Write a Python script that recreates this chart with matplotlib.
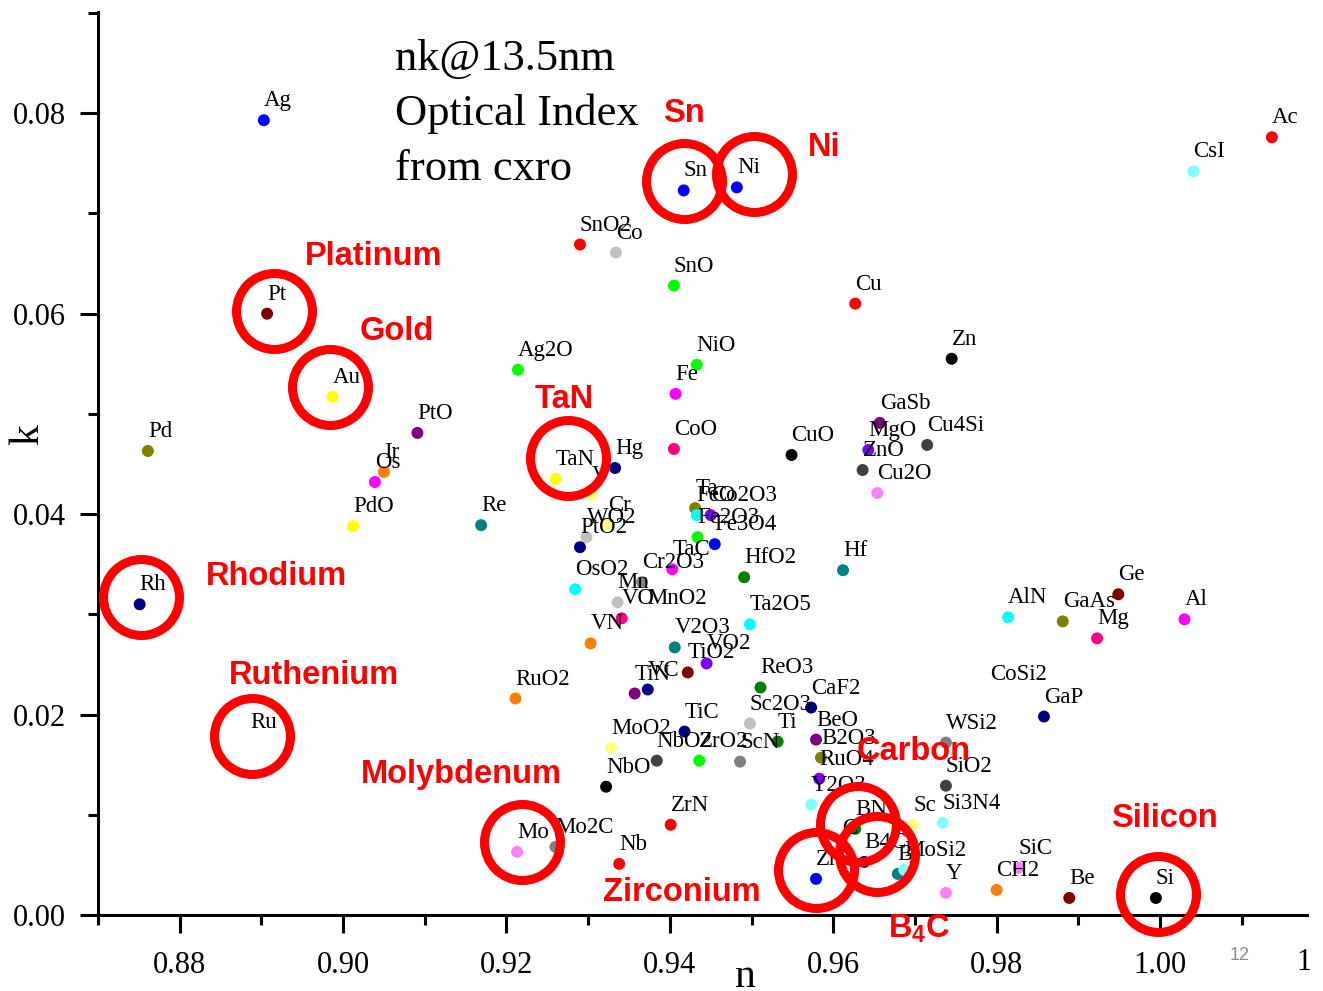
import matplotlib
matplotlib.use('Agg')
import matplotlib.pyplot as plt
from matplotlib.ticker import MultipleLocator, FormatStrFormatter
from matplotlib.transforms import Bbox, TransformedBbox

plt.rcParams['font.family'] = 'Liberation Serif'
plt.rcParams['mathtext.fontset'] = 'custom'
plt.rcParams['mathtext.rm'] = 'Liberation Sans:bold'

# Origin default colour list
pal = {'black': '#000000', 'red': '#FF0000', 'green': '#00FF00', 'blue': '#0000FF',
       'cyan': '#00FFFF', 'magenta': '#FF00FF', 'yellow': '#FFFF00', 'dkyellow': '#808000',
       'navy': '#000080', 'purple': '#800080', 'wine': '#800000', 'olive': '#008000',
       'dkcyan': '#008080', 'orange': '#FF8000', 'violet': '#8000FF', 'pink': '#FF0080',
       'white': '#FFFFFF', 'ltgray': '#C0C0C0', 'gray': '#808080', 'ltyellow': '#FFFF80',
       'ltcyan': '#80FFFF', 'ltmagenta': '#FF80FF', 'dkgray': '#404040'}

# nk @ 13.5 nm
materials = ['Ag', 'Ac', 'CsI', 'Sn', 'Ni', 'SnO2', 'Co', 'SnO', 'Pt', 'Cu',
             'Zn', 'NiO', 'Ag2O', 'Fe', 'Au', 'GaSb', 'PtO', 'Cu4Si', 'MgO', 'ZnO',
             'Cu2O', 'CuO', 'Pd', 'Ir', 'Os', 'PdO', 'Re', 'Hg', 'TaN', 'V',
             'Cr', 'WO2', 'PtO2', 'CoO', 'Ta', 'FeO', 'Co2O3', 'Fe2O3', 'Fe3O4', 'TaC',
             'Cr2O3', 'OsO2', 'Mn', 'VO', 'MnO2', 'VN', 'Ta2O5', 'HfO2', 'V2O3', 'VO2',
             'TiO2', 'VC', 'TiN', 'RuO2', 'ReO3', 'CaF2', 'Sc2O3', 'Ti', 'BeO', 'B2O3',
             'RuO4', 'Y2O3', 'TiC', 'MoO2', 'NbO2', 'ZrO2', 'ScN', 'NbO', 'ZrN', 'Nb',
             'Mo2C', 'Mo', 'Rh', 'Ru', 'Hf', 'Ge', 'AlN', 'GaAs', 'Mg', 'Al',
             'CoSi2', 'GaP', 'WSi2', 'SiO2', 'Sc', 'Si3N4', 'BN', 'C', 'B4C', 'Zr',
             'B', 'MoSi2', 'Y', 'CH2', 'SiC', 'Be', 'Si']
n_vals = [0.8903, 1.0137, 1.0041, 0.9417, 0.9482, 0.9290, 0.9334, 0.9405, 0.8907, 0.9627,
          0.9745, 0.9433, 0.9214, 0.9407, 0.8987, 0.9657, 0.9091, 0.9715, 0.9643, 0.9636,
          0.9654, 0.9549, 0.8761, 0.9050, 0.9039, 0.9012, 0.9169, 0.9333, 0.9260, 0.9305,
          0.9324, 0.9298, 0.9290, 0.9405, 0.9431, 0.9433, 0.9450, 0.9434, 0.9455, 0.9403,
          0.9366, 0.9284, 0.9336, 0.9341, 0.9372, 0.9303, 0.9498, 0.9491, 0.9406, 0.9445,
          0.9422, 0.9373, 0.9357, 0.9211, 0.9511, 0.9573, 0.9498, 0.9532, 0.9579, 0.9585,
          0.9583, 0.9573, 0.9418, 0.9328, 0.9384, 0.9436, 0.9486, 0.9322, 0.9401, 0.9338,
          0.9260, 0.9213, 0.8751, 0.8886, 0.9612, 0.9949, 0.9814, 0.9881, 0.9923, 1.0030,
          0.9792, 0.9858, 0.9738, 0.9738, 0.9698, 0.9734, 0.9627, 0.9611, 0.9638, 0.9579,
          0.9679, 0.9687, 0.9738, 0.9800, 0.9827, 0.9889, 0.9995]
k_vals = [0.0793, 0.0776, 0.0742, 0.0723, 0.0726, 0.0669, 0.0661, 0.0628, 0.0600, 0.0610,
          0.0555, 0.0549, 0.0544, 0.0520, 0.0517, 0.0491, 0.0481, 0.0469, 0.0464, 0.0444,
          0.0421, 0.0459, 0.0463, 0.0442, 0.0432, 0.0388, 0.0389, 0.0446, 0.0435, 0.0419,
          0.0389, 0.0377, 0.0367, 0.0465, 0.0406, 0.0399, 0.0399, 0.0377, 0.0370, 0.0345,
          0.0332, 0.0325, 0.0312, 0.0296, 0.0296, 0.0271, 0.0290, 0.0337, 0.0267, 0.0251,
          0.0242, 0.0225, 0.0221, 0.0216, 0.0227, 0.0207, 0.0191, 0.0173, 0.0175, 0.0157,
          0.0136, 0.0110, 0.0183, 0.0167, 0.0154, 0.0154, 0.0153, 0.0128, 0.0090, 0.0051,
          0.0068, 0.0063, 0.0310, 0.0173, 0.0344, 0.0320, 0.0297, 0.0293, 0.0276, 0.0295,
          0.0221, 0.0198, 0.0172, 0.0129, 0.0090, 0.0092, 0.0086, 0.0067, 0.0053, 0.0036,
          0.0041, 0.0045, 0.0022, 0.0025, 0.0047, 0.0017, 0.0017]
color_names = ['blue', 'red', 'ltcyan', 'blue', 'blue', 'red', 'ltgray', 'green', 'wine', 'red',
               'black', 'green', 'green', 'magenta', 'yellow', 'purple', 'purple', 'dkgray', 'violet', 'dkgray',
               'ltmagenta', 'black', 'dkyellow', 'orange', 'magenta', 'yellow', 'dkcyan', 'navy', 'yellow', 'ltyellow',
               'ltyellow', 'ltgray', 'navy', 'pink', 'dkyellow', 'cyan', 'violet', 'green', 'blue', 'magenta',
               'gray', 'cyan', 'ltgray', 'pink', 'white', 'orange', 'cyan', 'olive', 'dkcyan', 'violet',
               'wine', 'navy', 'purple', 'orange', 'olive', 'navy', 'ltgray', 'olive', 'purple', 'dkyellow',
               'violet', 'ltcyan', 'navy', 'ltyellow', 'dkgray', 'green', 'gray', 'black', 'red', 'red',
               'gray', 'ltmagenta', 'navy', 'white', 'dkcyan', 'wine', 'cyan', 'dkyellow', 'pink', 'magenta',
               'white', 'navy', 'gray', 'dkgray', 'ltyellow', 'ltcyan', 'olive', 'white', 'navy', 'blue',
               'dkcyan', 'ltcyan', 'ltmagenta', 'orange', 'ltmagenta', 'wine', 'black']
colors = [pal[c] for c in color_names]

# red highlight circles and their captions
hl_n = [0.9417, 0.9503, 0.8916, 0.8984, 0.9275, 0.8753, 0.8888, 0.9219, 0.9579, 0.9630, 0.9654, 0.9998]
hl_k = [0.0732, 0.0739, 0.0603, 0.0527, 0.0456, 0.0317, 0.0179, 0.0073, 0.0045, 0.0091, 0.0061, 0.0021]
cap_text = ['Sn', 'Ni', 'Platinum', 'Gold', 'TaN', 'Rhodium', 'Ruthenium', 'Molybdenum',
            'Carbon', 'Silicon', 'Zirconium', r'B$_4$C']
cap_n = [0.9417, 0.9589, 0.9038, 0.9066, 0.9271, 0.8918, 0.8964, 0.9145, 0.9699, 1.0006, 0.9415, 0.9705]
cap_k = [0.0800, 0.0766, 0.0657, 0.0582, 0.0514, 0.0338, 0.0239, 0.0140, 0.0163, 0.0096, 0.0022, -0.0014]

W, H = 1323, 991
fig = plt.figure(figsize=(W / 100, H / 100), dpi=100)
ax = fig.add_axes([98 / W, 76 / H, 1209 / W, 903 / H])

ax.scatter(n_vals, k_vals, s=74, c=colors, linewidths=0, zorder=2)
for name, x, y in zip(materials, n_vals, k_vals):
    ax.annotate(name, (x, y), xytext=(0, 14), textcoords='offset pixels',
                ha='left', va='baseline', fontsize=16.5, zorder=3)

ax.plot(hl_n, hl_k, 'o', ms=54.7, mfc='none', mec='red', mew=6.5, zorder=5, clip_on=False)
for s, x, y in zip(cap_text, cap_n, cap_k):
    ax.text(x, y, s, color='red', fontsize=23.5, fontweight='bold', family='Liberation Sans',
            ha='center', va='center', zorder=6, clip_on=False)

ax.set_xlim(0.87, 1.018)
ax.set_ylim(0, 0.0901)
ax.xaxis.set_major_locator(MultipleLocator(0.02))
ax.xaxis.set_minor_locator(MultipleLocator(0.01))
ax.yaxis.set_major_locator(MultipleLocator(0.02))
ax.yaxis.set_minor_locator(MultipleLocator(0.01))
ax.xaxis.set_major_formatter(FormatStrFormatter('%.2f'))
ax.yaxis.set_major_formatter(FormatStrFormatter('%.2f'))
ax.tick_params(which='major', direction='out', length=13, width=2.2, labelsize=22)
ax.tick_params(axis='x', which='major', pad=13)
ax.tick_params(axis='y', which='major', pad=10)
ax.tick_params(which='minor', direction='out', length=7, width=2.2)
ax.spines['top'].set_visible(False)
ax.spines['right'].set_visible(False)
ax.spines['left'].set_linewidth(2.2)
ax.spines['bottom'].set_linewidth(2.2)

# tick label of 1.02 sits past the axis end; the chart picture is cropped there
t = ax.text(1.02, -0.0525, '1.02', transform=ax.get_xaxis_transform(), fontsize=22,
            ha='center', va='center')
t.set_clip_box(TransformedBbox(Bbox([[0, 0], [1310 / W, 1]]), fig.transFigure))
t.set_clip_on(True)

fig.text(745 / W, 1 - 987 / H, 'n', fontsize=30, ha='center', va='baseline')
fig.text(28 / W, 1 - 435 / H, 'k', fontsize=30, rotation=90, ha='center', va='center')
fig.text(395 / W, 1 - 114 / H, 'nk@13.5nm\nOptical Index\nfrom cxro', fontsize=32,
         ha='left', va='center', linespacing=1.48)
fig.text(1240 / W, 1 - 955 / H, '12', fontsize=13, color='#8c8c8c', family='Liberation Sans',
         ha='center', va='center')

fig.savefig('out.png', dpi=100)
